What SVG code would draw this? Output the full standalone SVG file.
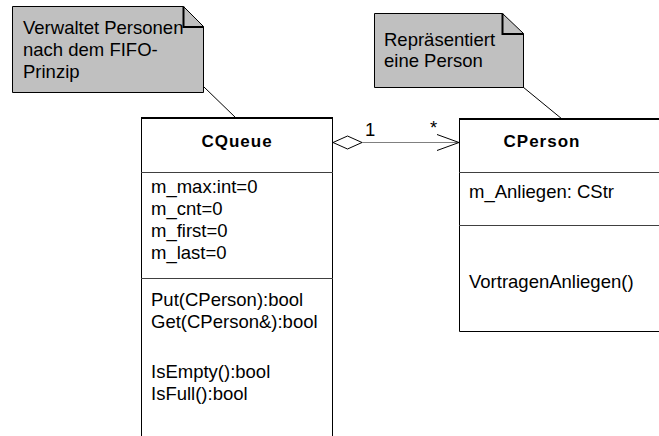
<svg xmlns="http://www.w3.org/2000/svg" width="659" height="436" viewBox="0 0 659 436">
  <style>
    .txt { font-family: "Liberation Sans", Arial, sans-serif; font-size: 18.5px; fill: #000; }
    .note-txt { font-family: "Liberation Sans", Arial, sans-serif; font-size: 18.5px; fill: #000; }
    .title { font-family: "Liberation Sans", Arial, sans-serif; font-size: 17px; font-weight: bold; fill: #000; letter-spacing: 1px; }
    .note-body { fill: #c0c0c0; stroke: #000; stroke-width: 1; }
    .fold { fill: none; stroke: #000; stroke-width: 2; }
    .box { fill: #fff; stroke: #000; stroke-width: 1; }
    .divider { stroke: #404040; stroke-width: 1; }
    .anchor { stroke: #000; stroke-width: 1; fill: none; }
    .assoc { stroke: #808080; stroke-width: 1; fill: none; }
  </style>
  <rect width="659" height="436" fill="#fff"/>

  <!-- note attached to CQueue -->
  <g id="note-queue">
    <path class="note-body" d="M12.5,6.5 H183.5 L203.5,26.5 V92.5 H12.5 Z"/>
    <path class="fold" d="M183.5,6.5 V27 H203.5"/>
    <text class="note-txt" x="23" y="34">Verwaltet Personen</text>
    <text class="note-txt" x="23" y="56">nach dem FIFO-</text>
    <text class="note-txt" x="23" y="78">Prinzip</text>
  </g>

  <!-- note attached to CPerson -->
  <g id="note-person">
    <path class="note-body" d="M374.5,13.5 H502.5 L523.5,33.5 V87.5 H374.5 Z"/>
    <path class="fold" d="M502.5,13.5 V34 H523.5"/>
    <text class="note-txt" x="384" y="46">Repräsentiert</text>
    <text class="note-txt" x="384" y="67">eine Person</text>
  </g>

  <!-- class CQueue -->
  <g id="cqueue">
    <path class="box" d="M141.5,437 V118.5 H332.5 V437"/>
    <line x1="141" y1="118" x2="333" y2="118" stroke="#000" stroke-width="2"/>
    <line class="divider" x1="141" y1="172.5" x2="333" y2="172.5"/>
    <line class="divider" x1="141" y1="278.5" x2="333" y2="278.5"/>
    <text class="title" x="237" y="147" text-anchor="middle">CQueue</text>
    <text class="txt" x="151" y="193">m_max:int=0</text>
    <text class="txt" x="151" y="215">m_cnt=0</text>
    <text class="txt" x="151" y="237">m_first=0</text>
    <text class="txt" x="151" y="259">m_last=0</text>
    <text class="txt" x="151" y="306">Put(CPerson):bool</text>
    <text class="txt" x="151" y="328">Get(CPerson&amp;):bool</text>
    <text class="txt" x="151" y="378">IsEmpty():bool</text>
    <text class="txt" x="151" y="400">IsFull():bool</text>
  </g>

  <!-- class CPerson -->
  <g id="cperson">
    <path class="box" d="M660,331.5 H459.5 V119.5 H660"/>
    <line x1="459" y1="119" x2="660" y2="119" stroke="#000" stroke-width="2"/>
    <line class="divider" x1="459" y1="172.5" x2="660" y2="172.5"/>
    <line class="divider" x1="459" y1="225.5" x2="660" y2="225.5"/>
    <text class="title" x="542" y="147" text-anchor="middle">CPerson</text>
    <text class="txt" x="469" y="198">m_Anliegen: CStr</text>
    <text class="txt" x="469" y="288">VortragenAnliegen()</text>
  </g>

  <!-- connectors -->
  <g id="connectors">
    <line class="anchor" x1="204" y1="87" x2="236" y2="118"/>
    <line class="anchor" x1="523" y1="87" x2="562" y2="119"/>
    <!-- aggregation CQueue 1 -> * CPerson -->
    <line class="assoc" x1="362" y1="142.5" x2="459" y2="142.5"/>
    <path d="M333,142.5 L347.5,136 L362,142.5 L347.5,149 Z" fill="#fff" stroke="#000" stroke-width="1"/>
    <path d="M437,134.5 L459,142.5 L437,150.5" fill="none" stroke="#000" stroke-width="1"/>
    <text class="txt" x="365" y="136">1</text>
    <text class="txt" x="430" y="134">*</text>
  </g>
</svg>
